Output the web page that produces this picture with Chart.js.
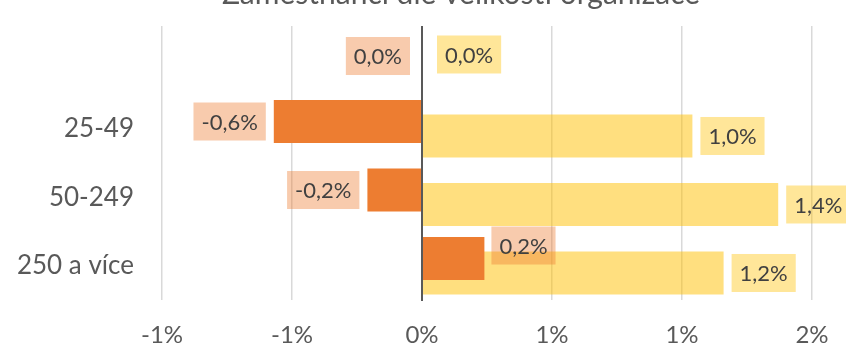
<!DOCTYPE html>
<html lang="cs">
<head>
<meta charset="UTF-8">
<title>Zaměstnanci dle velikosti organizace</title>
<script src="https://cdn.jsdelivr.net/npm/chart.js"></script>
<style>
  html, body { margin: 0; padding: 0; background: #fff; }
  #wrap { width: 846px; height: 351px; overflow: hidden; position: relative; }
  #sizeChart { position: absolute; left: 0; top: -30px; }
</style>
</head>
<body>
<div id="wrap"><canvas id="sizeChart" width="922" height="381"></canvas></div>
<script>
// velikostní kategorie organizací a meziroční změny v procentech
const categories = ['', '25-49', '50-249', '250 a více'];
const seriesNames = ['Řada 1', 'Řada 2'];
const changeA = [0, -0.57, -0.21, 0.24];
const changeB = [0, 1.04, 1.37, 1.16];
const xMin = -1, xMax = 1.5, xStep = 0.5;

const fmtPct = v => v.toFixed(1).replace('.', ',') + '%';
// osa zobrazuje celá procenta, půlky se zaokrouhlují od nuly (jako v Excelu)
const fmtTick = v => (Math.sign(v) * Math.round(Math.abs(v))) + '%';

const labelBoxes = ['rgba(237,125,49,0.4)', 'rgba(255,192,0,0.4)'];
// ruční posuny některých popisků  [dataset-index]: [dx, dy]
const labelNudge = { '0-0': [-4, 3], '1-0': [7, -13], '0-3': [-1, -13] };

const barLabels = {
  id: 'barLabels',
  afterDatasetsDraw(chart) {
    const ctx = chart.ctx;
    const area = chart.chartArea;
    const zero = chart.scales.x.getPixelForValue(0);

    // svislá osa v nule přes sloupce
    ctx.save();
    ctx.strokeStyle = '#595959';
    ctx.lineWidth = 2;
    ctx.beginPath();
    ctx.moveTo(zero, area.top);
    ctx.lineTo(zero, area.bottom + 1);
    ctx.stroke();

    ctx.font = '22px Lato';
    ctx.textAlign = 'center';
    ctx.textBaseline = 'middle';
    chart.data.datasets.forEach((ds, di) => {
      chart.getDatasetMeta(di).data.forEach((bar, i) => {
        const v = ds.data[i];
        const text = fmtPct(v);
        const w = ctx.measureText(text).width + 16;
        const h = 38;
        const left = (di === 0 && v <= 0);
        let x = left ? bar.x - 8 - w : bar.x + 8;
        let y = bar.y - h / 2;
        const n = labelNudge[di + '-' + i];
        if (n) { x += n[0]; y += n[1]; }
        ctx.fillStyle = labelBoxes[di];
        ctx.fillRect(x, y, w, h);
        ctx.fillStyle = '#404040';
        ctx.fillText(text, x + w / 2, y + h / 2 + 1);
      });
    });
    ctx.restore();
  }
};

const ctx = document.getElementById('sizeChart').getContext('2d');
new Chart(ctx, {
  type: 'bar',
  data: {
    labels: categories,
    datasets: [
      {
        label: seriesNames[0],
        data: changeA,
        backgroundColor: '#ED7D31',
        categoryPercentage: 0.423,
        barPercentage: 2.97
      },
      {
        label: seriesNames[1],
        data: changeB,
        backgroundColor: 'rgba(255,192,0,0.5)',
        categoryPercentage: 0.423,
        barPercentage: 2.97
      }
    ]
  },
  options: {
    indexAxis: 'y',
    responsive: false,
    animation: false,
    layout: { padding: 0 },
    plugins: {
      legend: { display: false },
      tooltip: { enabled: false },
      title: {
        display: true,
        text: 'Zaměstnanci dle velikosti organizace',
        color: '#595959',
        font: { family: 'Lato', size: 30, weight: 'normal' },
        padding: { top: 6, bottom: 14 }
      }
    },
    scales: {
      x: {
        min: xMin,
        max: xMax,
        ticks: {
          stepSize: xStep,
          callback: fmtTick,
          color: '#595959',
          font: { family: 'Lato', size: 24 },
          padding: 21,
          maxRotation: 0
        },
        grid: { color: '#D9D9D9', lineWidth: 1.5, drawTicks: false },
        border: { display: false },
        afterFit: s => { s.height = 51; }
      },
      y: {
        grid: { display: false, drawTicks: false },
        border: { display: false },
        ticks: {
          color: '#595959',
          font: { family: 'Lato', size: 26 },
          padding: 28
        },
        afterFit: s => { s.width = 162; }
      },
      // prázdný pruh vpravo, aby nadpis zůstal na středu celé plochy
      yRight: {
        type: 'category',
        position: 'right',
        grid: { display: false, drawTicks: false },
        border: { display: false },
        ticks: { display: false },
        afterFit: s => { s.width = 110; }
      }
    }
  },
  plugins: [barLabels]
});
</script>
</body>
</html>
